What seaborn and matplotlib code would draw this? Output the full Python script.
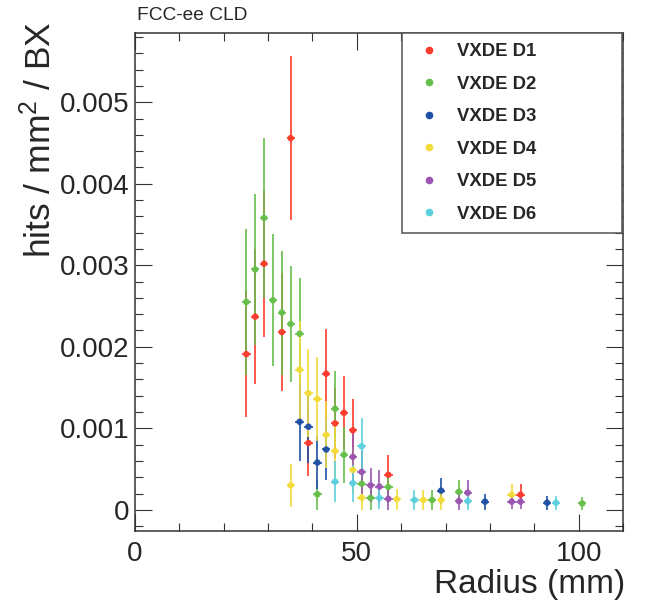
import numpy as np
import pandas as pd
import matplotlib
matplotlib.use("Agg")
import matplotlib.pyplot as plt
from matplotlib.lines import Line2D
from matplotlib.ticker import MultipleLocator
import seaborn as sns

# ---------------- data (values in units of 1e-3 hits / mm^2 / BX) ----------------
series_names = ["VXDE D1", "VXDE D2", "VXDE D3", "VXDE D4", "VXDE D5", "VXDE D6"]
series_colors = ["#fc3a2c", "#66bf4a", "#1d4fa3", "#f2dc3a", "#9b55b0", "#5bd0de"]

d1_r = [25.1, 27.1, 29.1, 33.1, 35.1, 39.1, 43.1, 45.1, 47.1, 49.1, 57.1, 86.9]
d1_y = [1.91, 2.37, 3.02, 2.18, 4.56, 0.82, 1.67, 1.06, 1.19, 0.975, 0.43, 0.185]
d1_e = [0.77, 0.83, 0.90, 0.72, 1.01, 0.41, 0.55, 0.43, 0.45, 0.39, 0.24, 0.13]

d2_r = [25.1, 27.1, 29.1, 31.1, 33.1, 35.1, 37.1, 41.1, 45.1, 47.1, 51.1, 53.1, 57.1, 67.0, 73.0, 100.8]
d2_y = [2.55, 2.95, 3.58, 2.57, 2.42, 2.28, 2.16, 0.19, 1.24, 0.675, 0.32, 0.145, 0.28, 0.12, 0.22, 0.078]
d2_e = [0.89, 0.93, 0.98, 0.81, 0.76, 0.71, 0.68, 0.19, 0.46, 0.34, 0.22, 0.15, 0.20, 0.12, 0.15, 0.078]

d3_r = [37.1, 39.1, 41.1, 43.1, 69.0, 78.9, 92.9]
d3_y = [1.08, 1.02, 0.58, 0.74, 0.235, 0.10, 0.087]
d3_e = [0.48, 0.45, 0.33, 0.37, 0.16, 0.10, 0.086]

d4_r = [35.1, 37.1, 39.1, 41.1, 43.1, 45.1, 49.1, 51.1, 59.0, 65.0, 69.0, 84.9]
d4_y = [0.30, 1.72, 1.43, 1.36, 0.92, 0.72, 0.49, 0.15, 0.13, 0.12, 0.12, 0.185]
d4_e = [0.26, 0.60, 0.54, 0.51, 0.41, 0.35, 0.28, 0.15, 0.13, 0.12, 0.12, 0.13]

d5_r = [49.1, 51.1, 53.1, 55.1, 57.1, 73.0, 75.0, 84.9, 86.9]
d5_y = [0.65, 0.465, 0.30, 0.285, 0.135, 0.107, 0.21, 0.10, 0.10]
d5_e = [0.32, 0.27, 0.21, 0.20, 0.14, 0.11, 0.15, 0.096, 0.095]

d6_r = [45.1, 49.1, 51.1, 55.1, 63.0, 75.0, 94.9]
d6_y = [0.345, 0.325, 0.78, 0.145, 0.12, 0.107, 0.087]
d6_e = [0.25, 0.23, 0.35, 0.14, 0.12, 0.11, 0.085]

bin_half_width = 0.95
x_ticks = [0, 50, 100]
y_ticks = [0, 0.001, 0.002, 0.003, 0.004, 0.005]
y_tick_labels = ["0", "0.001", "0.002", "0.003", "0.004", "0.005"]

all_r = [d1_r, d2_r, d3_r, d4_r, d5_r, d6_r]
all_y = [d1_y, d2_y, d3_y, d4_y, d5_y, d6_y]
all_e = [d1_e, d2_e, d3_e, d4_e, d5_e, d6_e]

frames = []
for name, r, y, e in zip(series_names, all_r, all_y, all_e):
    frames.append(pd.DataFrame({"disk": name, "radius": r,
                                "rate": np.array(y) * 1e-3, "err": np.array(e) * 1e-3}))
df = pd.concat(frames, ignore_index=True)

# ---------------- style ----------------
sns.set_theme(style="ticks")
plt.rcParams["font.family"] = ["Liberation Sans", "DejaVu Sans"]
plt.rcParams["mathtext.fontset"] = "custom"
plt.rcParams["mathtext.rm"] = "Liberation Sans"
plt.rcParams["mathtext.it"] = "Liberation Sans"
plt.rcParams["mathtext.default"] = "regular"
text_color = "#262626"

W, H = 646, 607
fig = plt.figure(figsize=(W / 100, H / 100), dpi=100)
ax_l, ax_r, ax_t, ax_b = 135, 623, 33, 531
ax = fig.add_axes([ax_l / W, 1 - ax_b / H, (ax_r - ax_l) / W, (ax_b - ax_t) / H])

palette = dict(zip(series_names, series_colors))
for name in series_names:
    sub = df[df["disk"] == name]
    ax.errorbar(sub["radius"], sub["rate"], yerr=sub["err"], xerr=bin_half_width,
                fmt="none", ecolor=palette[name], elinewidth=1.4, alpha=0.85, capsize=0)
sns.scatterplot(data=df, x="radius", y="rate", hue="disk", palette=palette,
                s=22, marker="o", edgecolor="none", alpha=0.95, legend=False, ax=ax, zorder=5)

ax.set_xlim(0, 110)
ax.set_ylim(-0.00026, 0.00585)
ax.set_xticks(x_ticks)
ax.set_xticklabels([str(v) for v in x_ticks])
ax.set_yticks(y_ticks)
ax.set_yticklabels(y_tick_labels)
ax.xaxis.set_minor_locator(MultipleLocator(10))
ax.yaxis.set_minor_locator(MultipleLocator(0.0002))
ax.tick_params(which="both", direction="in", top=True, right=True, colors="#333333",
               labelcolor=text_color, width=0.8)
ax.tick_params(which="major", length=12, labelsize=20)
ax.tick_params(axis="y", which="major", pad=4)
ax.tick_params(axis="x", which="major", pad=7)
ax.tick_params(which="minor", length=6)
for sp in ax.spines.values():
    sp.set_linewidth(1.1)
    sp.set_color("#333333")

ax.set_xlabel("Radius (mm)", fontsize=24, color=text_color, ha="right")
ax.xaxis.set_label_coords(1.004, -0.076)
ax.set_ylabel(r"hits / mm$^{2}$ / BX", fontsize=25.5, color=text_color, ha="right")
ax.yaxis.set_label_coords(-0.158, 1.024)

fig.text(137 / W, 1 - 15 / H, "FCC-ee CLD", fontsize=13.8, color=text_color,
         ha="left", va="center")

handles = [Line2D([], [], marker="o", linestyle="none", color=c, markersize=4.5)
           for c in series_colors]
leg = ax.legend(handles, series_names, loc="upper left",
                bbox_to_anchor=((401.7 - ax_l) / (ax_r - ax_l), 0.5, (622.3 - 401.7) / (ax_r - ax_l), 0.5),
                mode="expand", borderaxespad=0, fancybox=False, framealpha=1,
                prop={"weight": "bold", "size": 13.3}, labelcolor=text_color,
                borderpad=0.54, labelspacing=0.843, handlelength=1.87, handletextpad=0.59)
leg.get_frame().set_edgecolor("#555555")
leg.get_frame().set_linewidth(1.1)

fig.savefig("out.png", dpi=100)
